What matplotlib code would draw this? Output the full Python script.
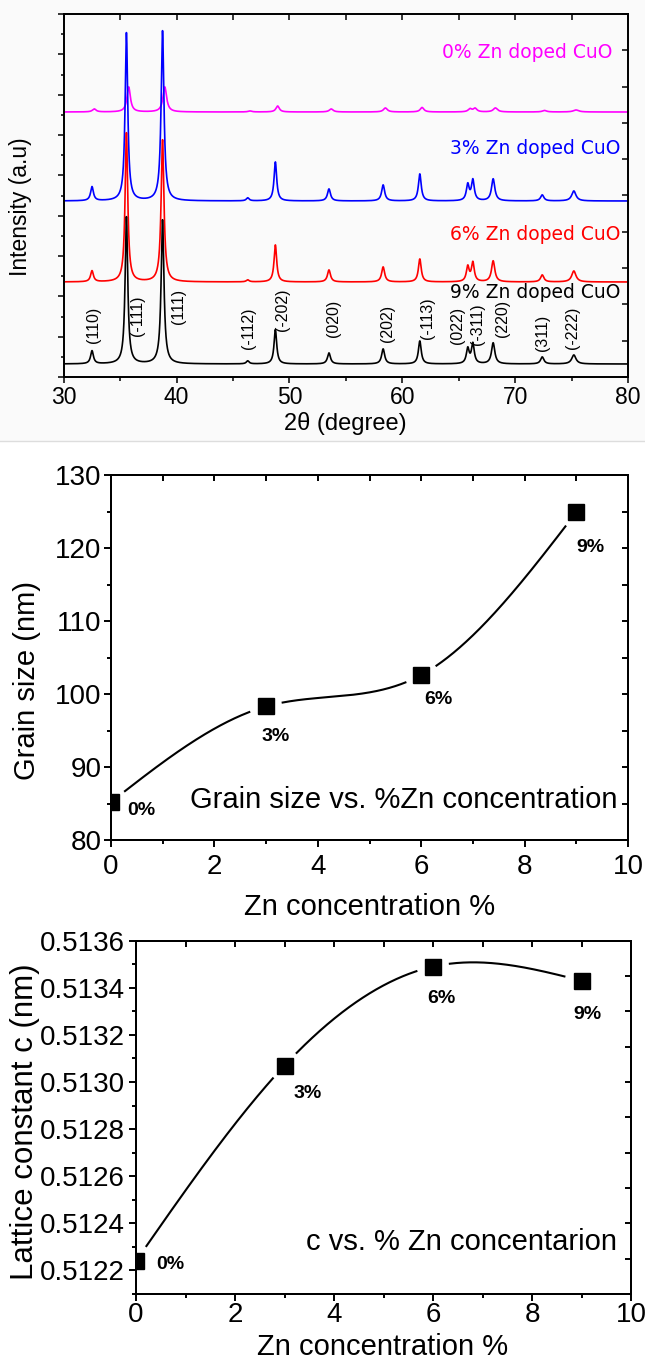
import numpy as np
import matplotlib
matplotlib.use("Agg")
import matplotlib.pyplot as plt
from matplotlib.patches import Rectangle

plt.rcParams["font.family"] = ["Liberation Sans", "DejaVu Sans"]

W, H = 645, 1364

# ---- XRD data (peak positions, peak tops, baselines; arbitrary units) ----
PEAK_POS = [32.5, 35.55, 38.75, 46.3, 48.75, 53.5, 58.3, 61.55, 65.8, 66.25, 68.05, 72.4, 75.2]
PEAK_FWHM = [0.3, 0.28, 0.3, 0.3, 0.28, 0.32, 0.32, 0.3, 0.3, 0.3, 0.35, 0.35, 0.45]
HKL = ["(110)", "(-111)", "(111)", "(-112)", "(-202)", "(020)", "(202)", "(-113)",
       "(022)", "(-311)", "(220)", "(311)", "(-222)"]
HKL_X = [32.65, 36.5, 40.2, 46.4, 49.4, 53.9, 58.7, 62.25, 64.9, 66.7, 68.9, 72.4, 75.1]
HKL_Y = [52, 61, 71, 49, 67, 59, 54, 59, 52, 53, 59, 44, 49]

SAMPLES = ["0% Zn doped CuO", "3% Zn doped CuO", "6% Zn doped CuO", "9% Zn doped CuO"]
SAMPLE_COLORS = ["#ff00ff", "#0000ff", "#ff0000", "#000000"]
BASELINE = [265, 176, 95, 13]
SHIFT = [0.2, 0.0, 0.0, 0.0]
PEAK_TOP = [
    [268, 290, 290, 266, 271, 268, 269, 269.5, 268, 268.5, 269, 266.5, 267],
    [190, 344, 346, 179, 215, 188, 192, 203, 192, 196.5, 198, 182, 186],
    [106, 244, 237, 97, 132, 107, 110, 118, 110, 114, 116, 102, 106],
    [26, 160, 157, 16, 47.5, 24, 28, 36, 28, 33, 34, 20, 22],
]

# ---- grain size / lattice constant ----
ZN = [0, 3, 6, 9]
ZN_LABELS = ["0%", "3%", "6%", "9%"]
GRAIN = [85.2, 98.3, 102.6, 124.9]
LATTICE_C = [0.51224, 0.51307, 0.51349, 0.51343]


def natural_spline(x, y, xs):
    x = np.asarray(x, float)
    y = np.asarray(y, float)
    n = len(x)
    h = np.diff(x)
    A = np.zeros((n, n))
    b = np.zeros(n)
    A[0, 0] = A[-1, -1] = 1
    for i in range(1, n - 1):
        A[i, i - 1] = h[i - 1]
        A[i, i] = 2 * (h[i - 1] + h[i])
        A[i, i + 1] = h[i]
        b[i] = 6 * ((y[i + 1] - y[i]) / h[i] - (y[i] - y[i - 1]) / h[i - 1])
    M = np.linalg.solve(A, b)
    idx = np.clip(np.searchsorted(x, xs) - 1, 0, n - 2)
    x0, x1 = x[idx], x[idx + 1]
    hh = x1 - x0
    t0, t1 = x1 - xs, xs - x0
    return ((M[idx] * t0 ** 3 + M[idx + 1] * t1 ** 3) / (6 * hh)
            + (y[idx] / hh - M[idx] * hh / 6) * t0
            + (y[idx + 1] / hh - M[idx + 1] * hh / 6) * t1)


def frame(ax, lw, out_len, in_len, top_ticks, right_n, ylim):
    for s in ax.spines.values():
        s.set_linewidth(lw)
    ax.tick_params(axis="both", which="major", direction="out", length=out_len, width=lw)
    ax.tick_params(axis="both", which="minor", direction="out", length=out_len * 0.6, width=lw)
    axt = ax.twiny()
    axt.set_xlim(ax.get_xlim())
    axt.set_xticks(top_ticks)
    axt.tick_params(axis="x", direction="in", length=in_len, width=lw, labeltop=False)
    axr = ax.twinx()
    axr.set_ylim(0, right_n)
    axr.set_yticks(range(right_n + 1))
    axr.tick_params(axis="y", direction="in", length=in_len, width=lw, labelright=False)
    for a in (axt, axr):
        for s in a.spines.values():
            s.set_linewidth(lw)
    ax.set_ylim(ylim)


def gap_curve(ax, xs, ys, px, py, radius):
    pts = ax.transData.transform(np.column_stack([xs, ys]))
    mk = ax.transData.transform(np.column_stack([px, py]))
    keep = np.ones(len(xs), bool)
    for m in mk:
        keep &= np.hypot(pts[:, 0] - m[0], pts[:, 1] - m[1]) > radius
    out = np.array(ys, float)
    out[~keep] = np.nan
    return out


fig = plt.figure(figsize=(W / 100, H / 100), dpi=100)
# the XRD panel sits on a slightly grey scanned background
fig.patches.append(Rectangle((0, 1 - 441 / H), 1, 441 / H, transform=fig.transFigure,
                             facecolor="#fafafa", edgecolor="none", zorder=-10))
fig.lines.append(plt.Line2D([0, 1], [1 - 441 / H] * 2, transform=fig.transFigure,
                            color="#dddddd", lw=1.0))

# ── Panel 1: XRD patterns ───────────────────────────────────────────
ax1 = fig.add_axes([63.8 / W, 1 - 377 / H, 564.2 / W, 363 / H])
ax1.patch.set_alpha(0)
ax1.set_xlim(30, 80)
frame(ax1, 1.1, 4.5, 4.5, np.arange(30, 81, 5), 10, (0, 363))
ax1.set_xticks(np.arange(30, 81, 10))
ax1.set_xticks(np.arange(30, 81, 5), minor=True)
ax1.set_yticks(np.linspace(0, 363, 10))
ax1.set_yticks(np.linspace(0, 363, 19), minor=True)
ax1.tick_params(axis="y", which="major", length=4, labelleft=False)
ax1.tick_params(axis="y", which="minor", length=2.5)
ax1.tick_params(axis="x", labelsize=16.5, pad=2)

tt = np.linspace(30, 80, 4001)
for k in range(len(SAMPLES)):
    curve = np.full_like(tt, BASELINE[k], dtype=float)
    widen = 1.3 if k == 0 else 1.0
    for p, w, top in zip(PEAK_POS, PEAK_FWHM, PEAK_TOP[k]):
        hw = w * widen / 2
        curve += (top - BASELINE[k]) / (1 + ((tt - p - SHIFT[k]) / hw) ** 2)
    ax1.plot(tt, curve, color=SAMPLE_COLORS[k], lw=1.2, zorder=2 + k)

label_y = [324, 229, 142, 84]
label_x = [78.6, 79.3, 79.3, 79.3]
for k in range(len(SAMPLES)):
    ax1.text(label_x[k], label_y[k], SAMPLES[k], color=SAMPLE_COLORS[k], ha="right",
             va="center", fontsize=13.5, family="DejaVu Sans", zorder=8)
for lab, x, y in zip(HKL, HKL_X, HKL_Y):
    ax1.text(x, y, lab, rotation=90, ha="center", va="center", fontsize=11.5, zorder=8)

fig.text(21 / W, 1 - 207 / H, "Intensity (a.u)", rotation=90, ha="center", va="center", fontsize=16.5)
fig.text(345 / W, 1 - 424 / H, "2\u03b8 (degree)", ha="center", va="center", fontsize=17)

# ── Panel 2: grain size ─────────────────────────────────────────────
ax2 = fig.add_axes([111 / W, 1 - 840 / H, 517 / W, 365 / H])
ax2.set_xlim(0, 10)
frame(ax2, 1.4, 5, 4, np.arange(0, 11, 1), 10, (80, 130))
ax2.set_xticks(np.arange(0, 11, 2))
ax2.set_xticks(np.arange(0, 11, 1), minor=True)
ax2.set_yticks(np.arange(80, 131, 10))
ax2.set_yticks(np.arange(80, 131, 5), minor=True)
ax2.tick_params(axis="both", labelsize=20)
ax2.tick_params(axis="x", pad=5)
ax2.tick_params(axis="y", pad=2)

xs = np.linspace(0, 9, 600)
ys = gap_curve(ax2, xs, natural_spline(ZN, GRAIN, xs), ZN, GRAIN, 17)
ax2.plot(xs, ys, color="black", lw=1.5, zorder=3)
ax2.plot(ZN, GRAIN, ls="none", marker="s", ms=11, color="black", zorder=4)
offs2 = [(22, -6), (7, -21.5), (12.5, -17.5), (10, -25.5)]
for x, y, lab, off in zip(ZN, GRAIN, ZN_LABELS, offs2):
    ax2.annotate(lab, (x, y), xytext=off, textcoords="offset points", ha="center",
                 va="center", fontsize=14, fontweight="bold", zorder=6)
fig.text(617 / W, 1 - 800 / H, "Grain size vs. %Zn concentration", ha="right", va="center", fontsize=21)
fig.text(27 / W, 1 - 680 / H, "Grain size (nm)", rotation=90, ha="center", va="center", fontsize=21)
fig.text(370 / W, 1 - 907 / H, "Zn concentration %", ha="center", va="center", fontsize=21)

# ── Panel 3: lattice constant c ─────────────────────────────────────
ax3 = fig.add_axes([136 / W, 1 - 1294 / H, 495 / W, 353.3 / H])
ax3.set_xlim(0, 10)
frame(ax3, 1.4, 5, 4, np.arange(0, 11, 1), 10, (0.51211, 0.5136))
ax3.set_xticks(np.arange(0, 11, 2))
ax3.set_xticks(np.arange(0, 11, 1), minor=True)
ax3.set_yticks(np.arange(0.5122, 0.51361, 0.0002))
ax3.set_yticks(np.arange(0.5121, 0.51361, 0.0001), minor=True)
ax3.yaxis.set_major_formatter(matplotlib.ticker.FormatStrFormatter("%.4f"))
ax3.tick_params(axis="both", labelsize=20)
ax3.tick_params(axis="x", pad=1)
ax3.tick_params(axis="y", pad=3)

ys = gap_curve(ax3, xs, natural_spline(ZN, LATTICE_C, xs), ZN, LATTICE_C, 17)
ax3.plot(xs, ys, color="black", lw=1.5, zorder=3)
ax3.plot(ZN, LATTICE_C, ls="none", marker="s", ms=11, color="black", zorder=4)
offs3 = [(25, -2.5), (16.5, -20), (6, -23), (4, -24)]
for x, y, lab, off in zip(ZN, LATTICE_C, ZN_LABELS, offs3):
    ax3.annotate(lab, (x, y), xytext=off, textcoords="offset points", ha="center",
                 va="center", fontsize=14, fontweight="bold", zorder=6)
fig.text(617 / W, 1 - 1242 / H, "c vs. % Zn concentarion", ha="right", va="center", fontsize=21)
fig.text(25 / W, 1 - 1122 / H, "Lattice constant c (nm)", rotation=90, ha="center", va="center", fontsize=22.5)
fig.text(383 / W, 1 - 1347 / H, "Zn concentration %", ha="center", va="center", fontsize=21)

fig.savefig("out.png", dpi=100)
